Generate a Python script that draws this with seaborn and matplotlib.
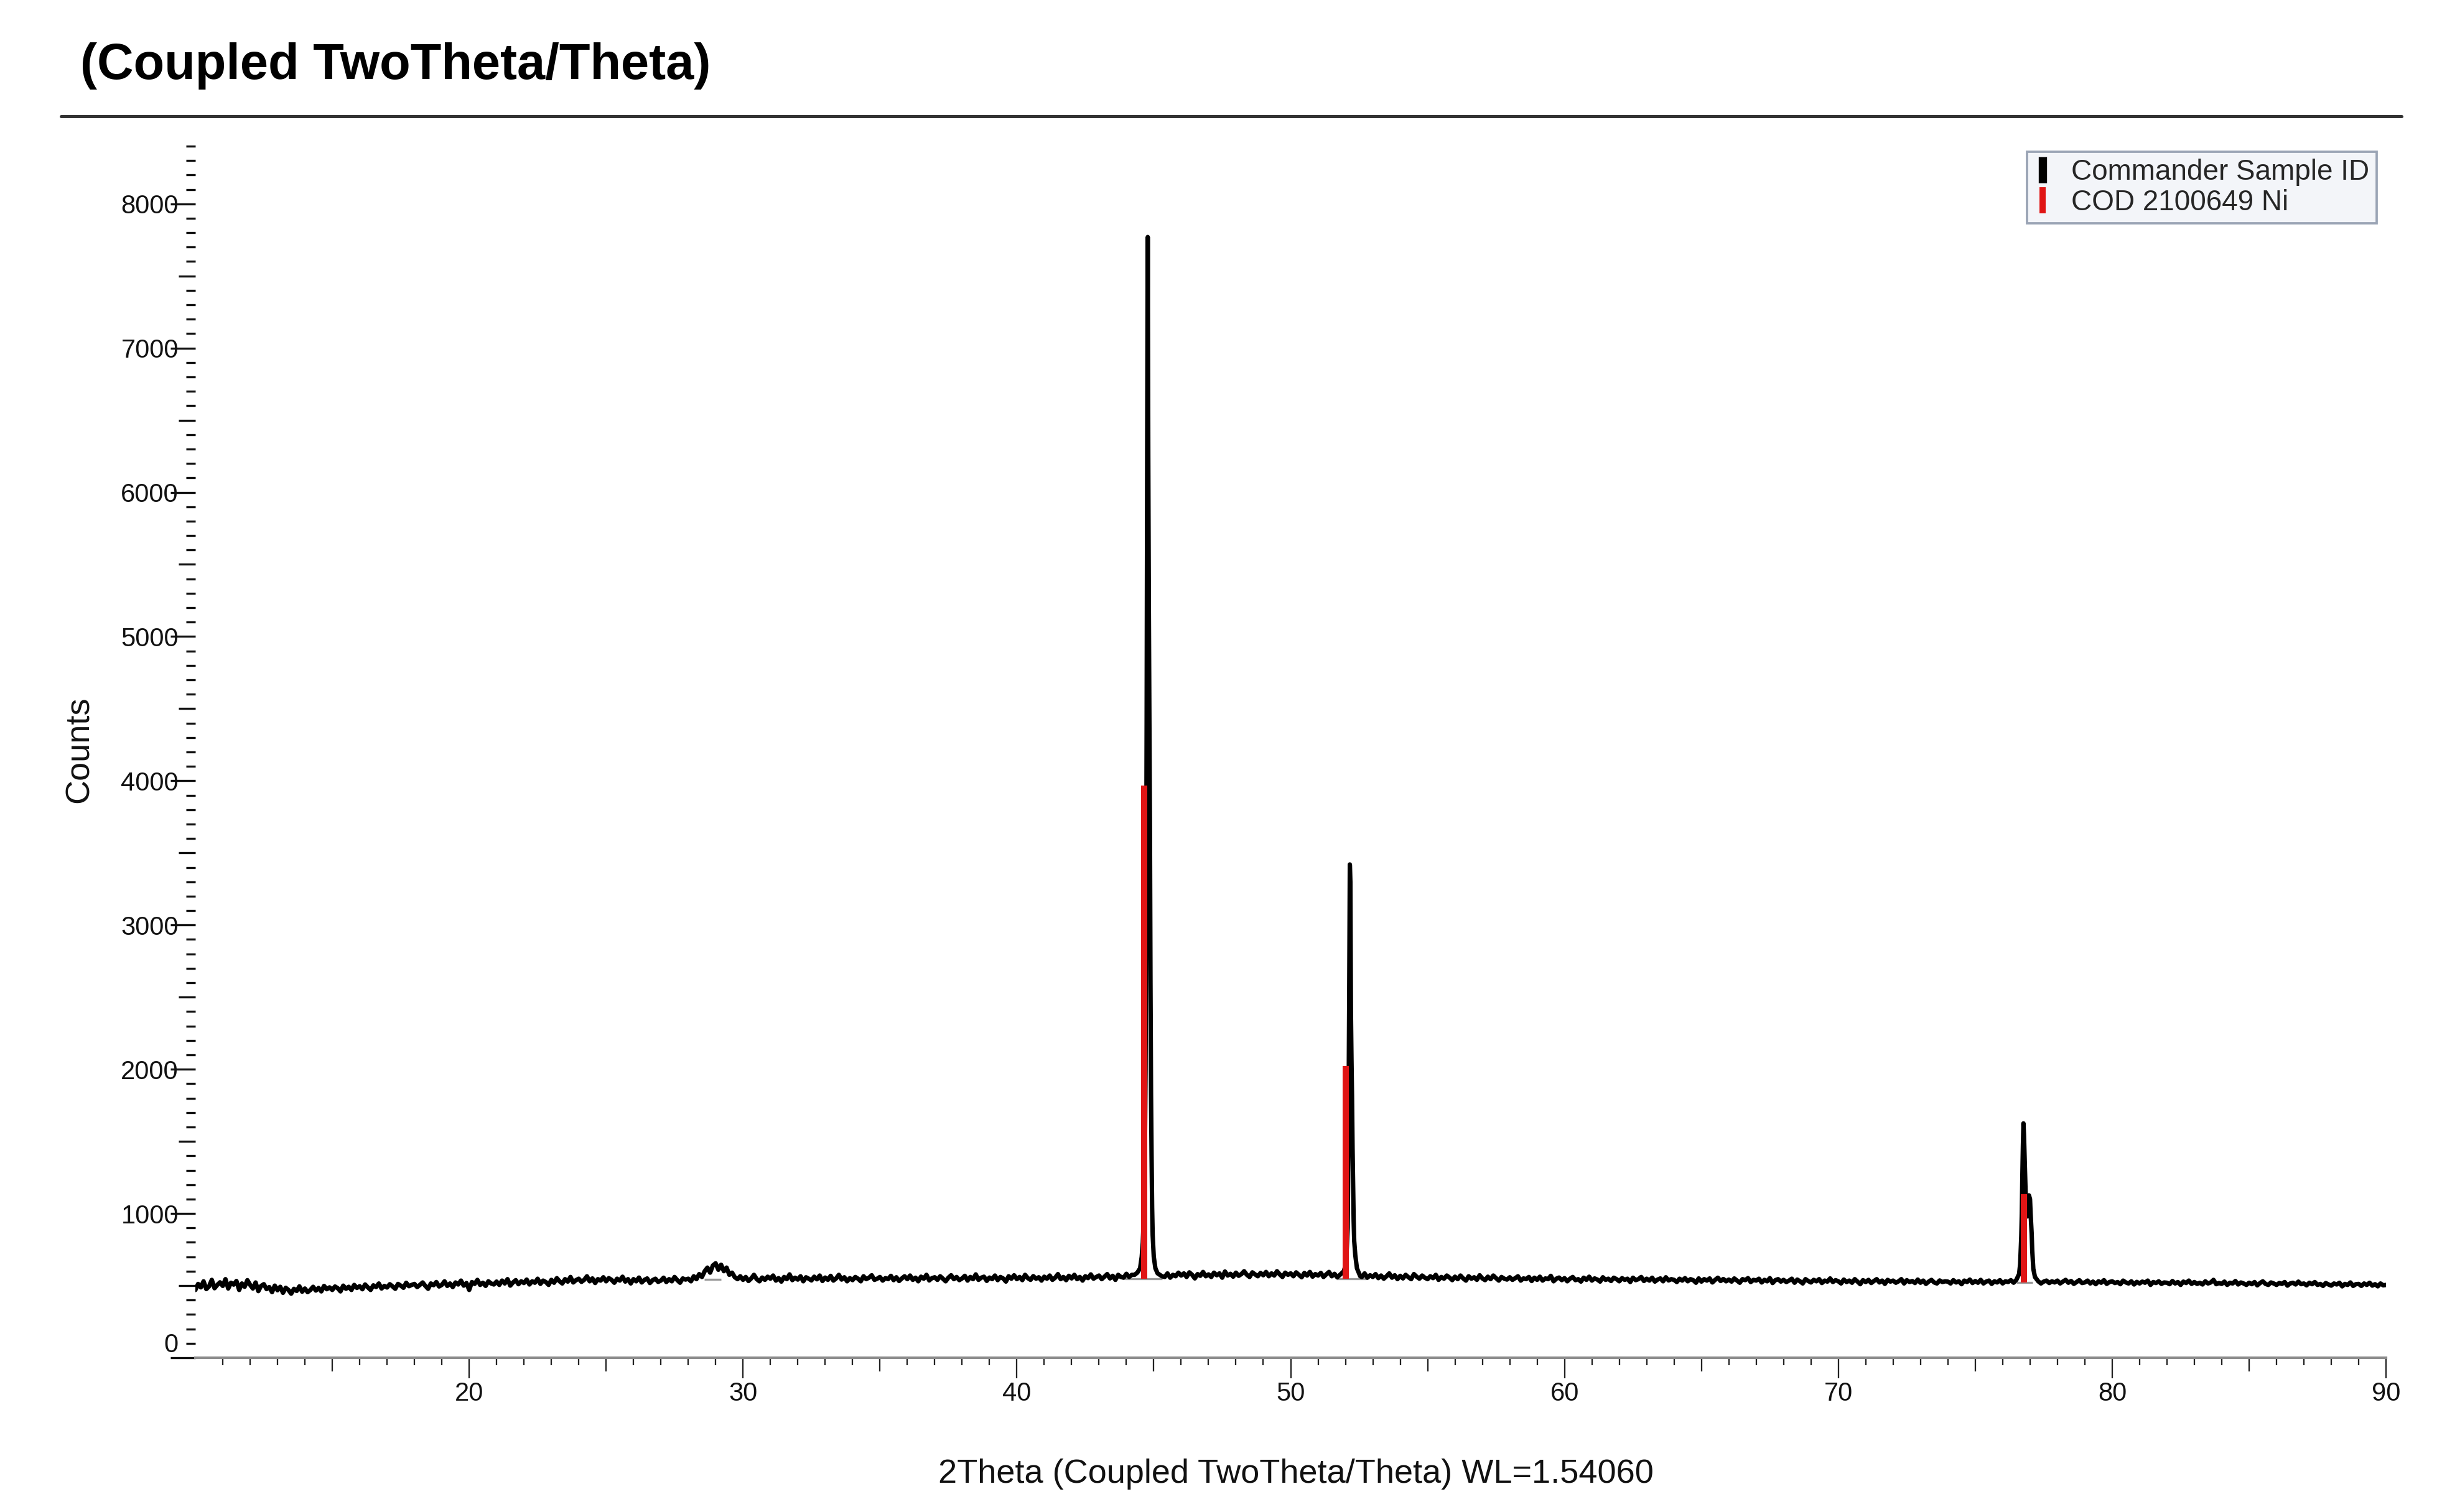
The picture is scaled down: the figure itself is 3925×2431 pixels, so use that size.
import numpy as np
import pandas as pd
import matplotlib
matplotlib.use("Agg")
import matplotlib.pyplot as plt
import matplotlib.transforms as mtransforms
from matplotlib.lines import Line2D
from matplotlib.ticker import FixedLocator, FuncFormatter
import seaborn as sns

# ---------------- data ----------------
scan_start = 10.0
scan_step = 0.1
# background / noise counts, one row per degree (d.0 ... d.9)
baseline_counts = [
    470, 512, 488, 530, 476, 495, 540, 482, 505, 523,   # 10
    498, 545, 480, 520, 507, 532, 470, 515, 492, 538,   # 11
    505, 480, 522, 462, 498, 510, 476, 490, 455, 500,   # 12
    468, 492, 450, 485, 470, 444, 478, 463, 495, 458,   # 13
    480, 455, 470, 492, 466, 484, 460, 498, 475, 488,   # 14
    470, 494, 482, 460, 500, 478, 492, 470, 505, 484,   # 15
    496, 475, 508, 488, 470, 502, 490, 515, 480, 498,   # 16
    487, 510, 495, 478, 512, 500, 485, 520, 496, 505,   # 17
    512, 490, 505, 522, 498, 478, 515, 503, 525, 494,   # 18
    505, 530, 498, 515, 490, 522, 508, 535, 500, 518,   # 19
    470, 525, 512, 540, 505, 520, 498, 530, 515, 508,   # 20
    528, 505, 535, 515, 545, 500, 522, 538, 510, 530,   # 21
    518, 542, 508, 530, 520, 548, 512, 535, 525, 505,   # 22
    540, 520, 552, 530, 515, 545, 528, 560, 522, 538,   # 23
    548, 526, 540, 565, 530, 550, 518, 545, 535, 558,   # 24
    530, 552, 540, 520, 548, 535, 562, 528, 545, 515,   # 25
    545, 530, 556, 522, 540, 550, 518, 538, 548, 526,   # 26
    535, 555, 525, 545, 530, 560, 538, 520, 550, 542,   # 27
    548, 530, 565, 545, 580, 560, 600, 625, 590, 640,   # 28
    655, 610, 645, 600, 625, 575, 590, 558, 545, 565,   # 29
    540, 560, 532, 550, 575, 545, 530, 556, 540, 562,   # 30
    548, 570, 535, 552, 528, 560, 545, 578, 538, 555,   # 31
    542, 565, 530, 558, 548, 536, 562, 544, 570, 532,   # 32
    556, 540, 568, 535, 550, 575, 542, 558, 530, 552,   # 33
    538, 560, 548, 530, 565, 545, 555, 572, 540, 548,   # 34
    560, 535, 552, 545, 568, 538, 558, 532, 550, 565,   # 35
    545, 570, 540, 555, 530, 562, 548, 575, 536, 552,   # 36
    558, 540, 565, 548, 530, 555, 572, 545, 560, 538,   # 37
    550, 568, 535, 560, 545, 578, 540, 555, 562, 533,   # 38
    556, 545, 570, 538, 560, 550, 528, 565, 548, 572,   # 39
    545, 560, 538, 575, 552, 540, 566, 548, 558, 535,   # 40
    562, 548, 570, 540, 555, 580, 545, 560, 538, 568,   # 41
    550, 575, 545, 560, 535, 565, 552, 578, 548, 560,   # 42
    570, 545, 562, 580, 550, 568, 540, 575, 560, 555,   # 43
    582, 560, 575, 550, 570, 565, 590, 575, 600, 620,   # 44
    700, 620, 590, 575, 560, 585, 555, 575, 565, 590,   # 45
    570, 585, 560, 592, 575, 550, 580, 568, 595, 565,   # 46
    578, 560, 590, 572, 585, 555, 598, 570, 582, 562,   # 47
    590, 568, 580, 600, 575, 560, 592, 578, 565, 588,   # 48
    572, 595, 565, 585, 570, 600, 578, 560, 590, 575,   # 49
    585, 565, 592, 575, 558, 588, 570, 595, 562, 580,   # 50
    570, 588, 560, 578, 595, 565, 582, 558, 575, 590,   # 51
    640, 900, 2000, 700, 620, 575, 560, 585, 555, 572,  # 52
    560, 580, 552, 570, 548, 565, 585, 555, 572, 545,   # 53
    568, 550, 575, 558, 545, 580, 562, 548, 570, 555,   # 54
    545, 565, 552, 575, 540, 560, 548, 570, 556, 538,   # 55
    562, 545, 570, 550, 535, 565, 548, 558, 540, 572,   # 56
    550, 538, 562, 545, 570, 552, 535, 560, 548, 542,   # 57
    558, 540, 552, 565, 535, 550, 545, 560, 532, 555,   # 58
    540, 562, 535, 550, 545, 568, 530, 548, 556, 538,   # 59
    552, 530, 548, 560, 538, 545, 528, 555, 540, 562,   # 60
    535, 550, 542, 528, 558, 540, 548, 532, 555, 545,   # 61
    530, 552, 540, 548, 525, 555, 538, 545, 560, 532,   # 62
    548, 535, 555, 528, 542, 550, 530, 558, 536, 545,   # 63
    540, 525, 548, 535, 552, 530, 545, 538, 520, 550,   # 64
    528, 545, 535, 550, 522, 540, 555, 532, 546, 530,   # 65
    542, 528, 550, 535, 520, 545, 538, 552, 525, 540,   # 66
    535, 548, 522, 540, 530, 552, 518, 538, 545, 528,   # 67
    540, 525, 535, 548, 520, 542, 530, 515, 545, 532,   # 68
    522, 540, 530, 545, 518, 535, 528, 550, 525, 538,   # 69
    530, 515, 542, 525, 535, 520, 545, 528, 510, 538,   # 70
    525, 540, 518, 532, 545, 522, 535, 512, 540, 528,   # 71
    535, 520, 530, 545, 515, 538, 525, 532, 518, 542,   # 72
    520, 535, 512, 528, 540, 522, 515, 536, 525, 530,   # 73
    528, 515, 538, 522, 530, 510, 535, 525, 542, 518,   # 74
    532, 520, 540, 515, 528, 535, 512, 530, 522, 538,   # 75
    515, 530, 525, 538, 520, 535, 545, 560, 650, 1600,  # 76
    1100, 700, 560, 530, 515, 528, 535, 518, 530, 522,  # 77
    535, 515, 528, 540, 520, 532, 512, 525, 538, 518,   # 78
    522, 535, 515, 528, 510, 530, 520, 538, 512, 525,   # 79
    530, 518, 525, 510, 535, 522, 515, 530, 508, 526,   # 80
    515, 528, 520, 535, 505, 525, 518, 530, 512, 522,   # 81
    520, 510, 532, 515, 525, 505, 528, 518, 535, 512,   # 82
    525, 512, 520, 508, 530, 515, 522, 540, 510, 518,   # 83
    512, 528, 505, 520, 515, 532, 508, 522, 515, 505,   # 84
    520, 510, 525, 502, 518, 530, 512, 505, 522, 515,   # 85
    505, 518, 512, 525, 500, 515, 520, 508, 528, 510,   # 86
    515, 502, 520, 510, 525, 505, 512, 498, 518, 508,   # 87
    500, 515, 508, 520, 495, 512, 505, 522, 498, 510,   # 88
    512, 498, 515, 505, 520, 500, 510, 495, 515, 502,   # 89
    505,                                                # 90
]

# Ni (111) reflection region of the measured pattern
peak1_2theta = [44.30, 44.40, 44.50, 44.56, 44.60, 44.64, 44.68, 44.70, 44.72,
                44.74, 44.76, 44.78, 44.80, 44.82, 44.84, 44.86, 44.88, 44.90,
                44.92, 44.94, 44.96, 45.00, 45.06, 45.14, 45.30]
peak1_counts = [575, 590, 620, 700, 800, 1000, 1500, 2000, 3000,
                4400, 6300, 7770, 6250, 5200, 4410, 3720, 2600, 1830,
                1400, 1040, 850, 700, 620, 585, 565]

# Ni (200) reflection region
peak2_2theta = [51.80, 51.94, 52.00, 52.04, 52.08, 52.10, 52.12, 52.14, 52.16,
                52.18, 52.20, 52.22, 52.24, 52.26, 52.28, 52.30, 52.32, 52.36,
                52.42, 52.54]
peak2_counts = [575, 600, 640, 720, 900, 1300, 1900, 2600, 3420,
                3300, 2400, 2070, 1810, 1450, 1200, 950, 810, 710,
                620, 565]

# Ni (220) reflection region (K-alpha1 / K-alpha2 doublet)
peak3_2theta = [76.50, 76.60, 76.64, 76.68, 76.70, 76.72, 76.74, 76.76, 76.78,
                76.80, 76.82, 76.84, 76.86, 76.88, 76.90, 76.92, 76.96, 77.00,
                77.02, 77.06, 77.08, 77.12, 77.18, 77.30]
peak3_counts = [540, 580, 650, 840, 1000, 1260, 1470, 1625, 1540,
                1400, 1260, 1135, 1060, 1000, 980, 1005, 1126, 1100,
                1005, 860, 747, 617, 560, 530]

# COD 2100649 Ni reference sticks
ref_2theta = [44.64, 52.00, 76.78]
ref_bottom = [548, 549, 522]
ref_top = [3966, 2021, 1135]

# fitted background segments under the reflections
bg_start = [28.58, 43.94, 51.66, 76.50]
bg_end = [29.19, 45.30, 52.80, 77.10]
bg_level = [544, 548, 549, 522]

legend_labels = ["Commander Sample ID", "COD 2100649 Ni"]
x_major = [15, 20, 25, 30, 35, 40, 45, 50, 55, 60, 65, 70, 75, 80, 85, 90]
x_minor = [v for v in range(11, 90) if v % 5 != 0]
y_major = list(range(0, 8001, 500))
y_minor = [v for v in range(100, 8401, 100) if v % 500 != 0]

# ---------------- assemble pattern ----------------
bx = np.round(scan_start + scan_step * np.arange(len(baseline_counts)), 2)
by = np.array(baseline_counts, dtype=float)
mask = np.ones(len(bx), dtype=bool)
peaks = [(peak1_2theta, peak1_counts), (peak2_2theta, peak2_counts), (peak3_2theta, peak3_counts)]
for px, _ in peaks:
    mask &= ~((bx >= min(px) - 1e-9) & (bx <= max(px) + 1e-9))
all_x = np.concatenate([bx[mask]] + [np.array(px) for px, _ in peaks])
all_y = np.concatenate([by[mask]] + [np.array(py, dtype=float) for _, py in peaks])
order = np.argsort(all_x)
df = pd.DataFrame({"two_theta": all_x[order], "counts": all_y[order]})

# ---------------- figure ----------------
sns.set_theme(style="white")
plt.rcParams["font.family"] = ["Liberation Sans", "DejaVu Sans"]

W, H, DPI = 3925, 2431, 300
fig = plt.figure(figsize=(W / DPI, H / DPI), dpi=DPI)
fig.patch.set_facecolor("white")
ax = fig.add_axes([314 / W, (H - 2183) / H, (3835 - 314) / W, (2183 - 228) / H])
ax.set_facecolor("white")

ax.hlines(bg_level, bg_start, bg_end, colors="#9a9a9a", linewidth=0.8, zorder=1)
sns.lineplot(data=df, x="two_theta", y="counts", estimator=None, sort=True,
             color="black", linewidth=1.7, ax=ax, zorder=2)
ax.vlines(ref_2theta, ref_bottom, ref_top, colors="#e01515", linewidth=2.4, zorder=3)

ax.set_xlim(10, 90)
ax.set_ylim(0, 8430)

for side in ["top", "right", "left"]:
    ax.spines[side].set_visible(False)
ax.spines["bottom"].set_color("#8c8c8c")
ax.spines["bottom"].set_linewidth(1.0)

# x ticks
ax.xaxis.set_major_locator(FixedLocator(x_major))
ax.xaxis.set_minor_locator(FixedLocator(x_minor))
ax.xaxis.set_major_formatter(FuncFormatter(lambda v, p: f"{int(round(v))}" if round(v) % 10 == 0 else ""))
ax.tick_params(axis="x", which="both", direction="out", bottom=True, color="#222222",
               width=0.55, labelsize=10, pad=3, labelcolor="#111111")
ax.tick_params(axis="x", which="minor", length=2.9)
for tick, loc in zip(ax.xaxis.get_major_ticks(), x_major):
    tick.tick1line.set_markersize(8.0 if loc % 10 == 0 else 5.3)

# y ticks
ax.yaxis.set_major_locator(FixedLocator(y_major))
ax.yaxis.set_minor_locator(FixedLocator(y_minor))
ax.yaxis.set_major_formatter(FuncFormatter(lambda v, p: f"{int(round(v))}" if round(v) % 1000 == 0 else ""))
ax.tick_params(axis="y", which="both", direction="out", left=True, color="#111111",
               width=0.8, labelsize=10, pad=0.5, labelcolor="#111111")
ax.tick_params(axis="y", which="minor", length=3.7)
for tick, loc in zip(ax.yaxis.get_major_ticks(), y_major):
    tick.tick1line.set_markersize(9.6 if loc % 1000 == 0 else 6.4)
    if loc == 0:
        tick.tick1line.set_color("#8c8c8c")
        tick.label1.set_transform(tick.label1.get_transform() +
                                  mtransforms.ScaledTranslation(0, 6 / 72, fig.dpi_scale_trans))

ax.grid(False)

# axis labels
ax.set_xlabel("2Theta (Coupled TwoTheta/Theta) WL=1.54060", fontsize=13, color="#111111")
ax.xaxis.set_label_coords(0.5024, -0.083)
ax.set_ylabel("Counts", fontsize=13, color="#111111")
ax.yaxis.set_label_coords(-0.0457, 0.5)

# legend
handles = [
    Line2D([], [], color="black", marker="|", linestyle="None", markersize=10, markeredgewidth=3.2),
    Line2D([], [], color="#e01515", marker="|", linestyle="None", markersize=10, markeredgewidth=2.4),
]
leg = ax.legend(handles, legend_labels, loc="upper right", bbox_to_anchor=(0.9957, 0.992),
                frameon=True, fancybox=False, edgecolor="#9aa4b5", facecolor="#f3f5f9",
                framealpha=1, fontsize=11, handlelength=0.6, handletextpad=0.7,
                borderpad=0.25, labelspacing=0.1, borderaxespad=0)
leg.get_frame().set_linewidth(0.9)

# title and rule
fig.text(129 / W, 1 - 127 / H, "(Coupled TwoTheta/Theta)", fontsize=19.5,
         fontweight="bold", ha="left", va="baseline", color="black")
fig.add_artist(Line2D([98 / W, 3860 / W], [1 - 187 / H, 1 - 187 / H],
                      transform=fig.transFigure, color="#333333", linewidth=1.2))

fig.savefig("out.png", dpi=DPI, facecolor="white")
